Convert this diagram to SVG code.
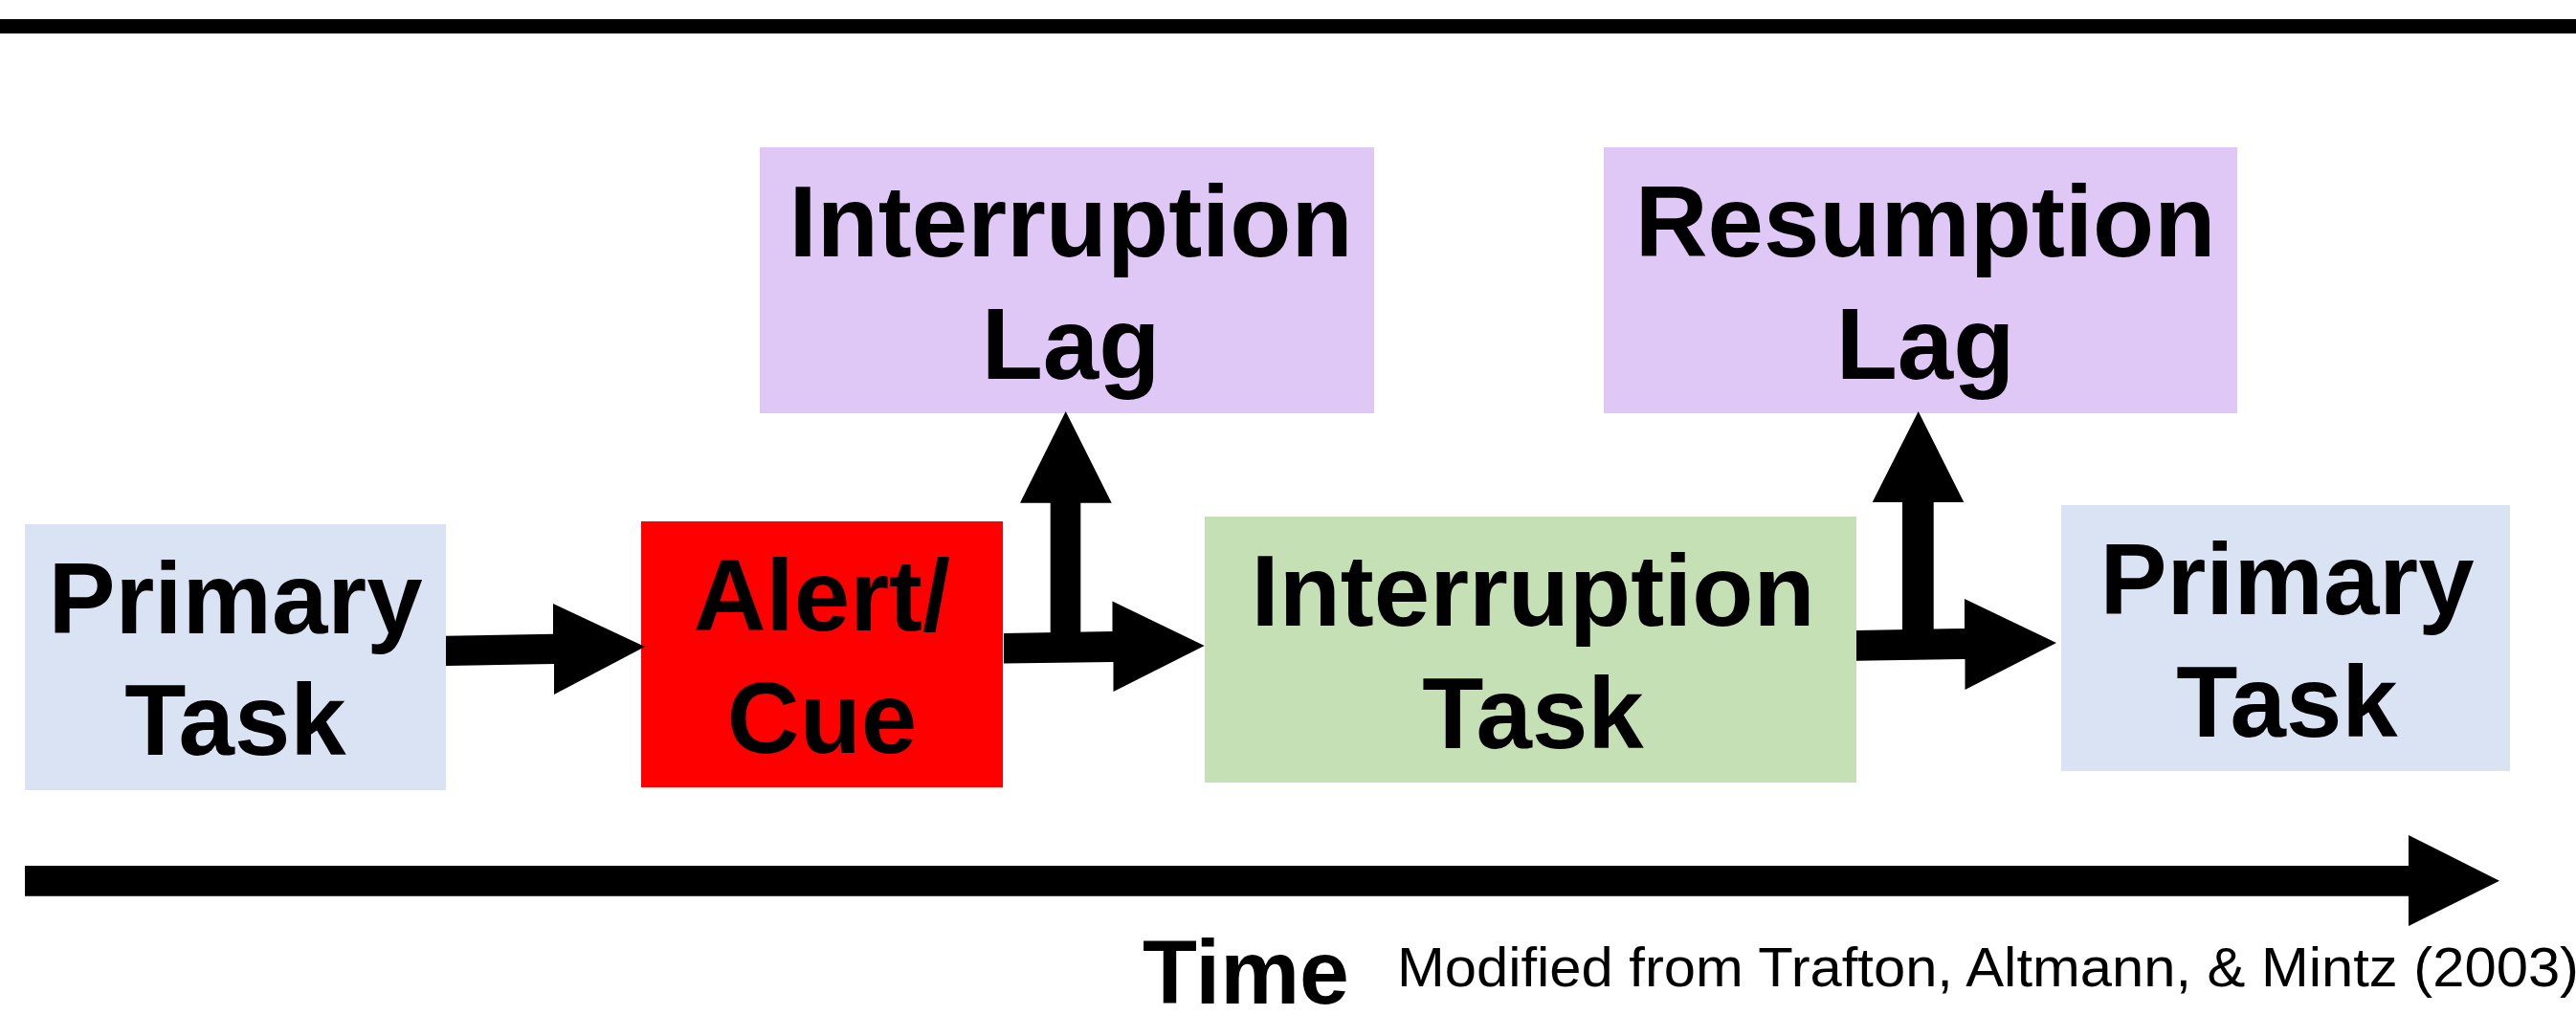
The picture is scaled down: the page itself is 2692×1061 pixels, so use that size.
<svg xmlns="http://www.w3.org/2000/svg" width="2692" height="1061" viewBox="0 0 2692 1061">
<style>
.lbl{font-family:"Liberation Sans",Arial,sans-serif;font-weight:bold;font-size:105px;fill:#000;text-anchor:middle}
.blue{fill:#DAE3F3}
.purple{fill:#E0C8F6}
.green{fill:#C5E0B4}
.red{fill:#FF0000}
.arrow{fill:#000}
</style>
<rect x="0" y="20" width="2692" height="15" fill="#000"/>
<g id="primary-task-1">
<rect class="blue" x="26" y="548" width="440" height="278"/>
<text class="lbl" x="246" y="662">Primary</text>
<text class="lbl" x="246" y="789">Task</text>
</g>
<g id="alert-cue">
<rect class="red" x="670" y="545" width="378" height="278"/>
<text class="lbl" x="859" y="659">Alert/</text>
<text class="lbl" x="859" y="787">Cue</text>
</g>
<g id="interruption-lag">
<rect class="purple" x="794" y="154" width="642" height="278"/>
<text class="lbl" x="1119" y="268">Interruption</text>
<text class="lbl" x="1119" y="396">Lag</text>
</g>
<g id="interruption-task">
<rect class="green" x="1259" y="540" width="681" height="278"/>
<text class="lbl" x="1602" y="654">Interruption</text>
<text class="lbl" x="1602" y="782">Task</text>
</g>
<g id="resumption-lag">
<rect class="purple" x="1676" y="154" width="662" height="278"/>
<text class="lbl" x="2012" y="268">Resumption</text>
<text class="lbl" x="2012" y="396">Lag</text>
</g>
<g id="primary-task-2">
<rect class="blue" x="2154" y="528" width="469" height="278"/>
<text class="lbl" x="2390" y="642">Primary</text>
<text class="lbl" x="2390" y="770">Task</text>
</g>
<g id="connectors">
<polygon class="arrow" points="466,664.7 578,662.7 578,631 674,676 579,726 579,694 466,696"/>
<polygon class="arrow" points="1049,662 1162.5,660 1162.5,628.5 1258.7,675 1163.5,723 1163.5,692 1049,693.5"/>
<polygon class="arrow" points="1097.7,662 1097.7,525.7 1066,525.7 1113.7,430 1161.7,525.7 1129.3,525.7 1129.3,662"/>
<polygon class="arrow" points="1940,659 2053,657 2053,626 2149,672 2053.5,721 2053.5,689 1940,690.7"/>
<polygon class="arrow" points="1988,659 1988,525 1956.7,525 2004.7,430 2052.3,525 2020.7,525 2020.7,659"/>
<polygon class="arrow" points="26,905 2517,905 2517,873 2612,920.7 2517,968 2517,936.7 26,936.7"/>
</g>
<text x="1194" y="1049" font-family="'Liberation Sans',Arial,sans-serif" font-weight="bold" font-size="94" textLength="216" lengthAdjust="spacingAndGlyphs">Time</text>
<text x="1460" y="1031" font-family="'Liberation Sans',Arial,sans-serif" font-size="58" textLength="1235" lengthAdjust="spacingAndGlyphs">Modified from Trafton, Altmann, &amp; Mintz (2003)</text>
</svg>
